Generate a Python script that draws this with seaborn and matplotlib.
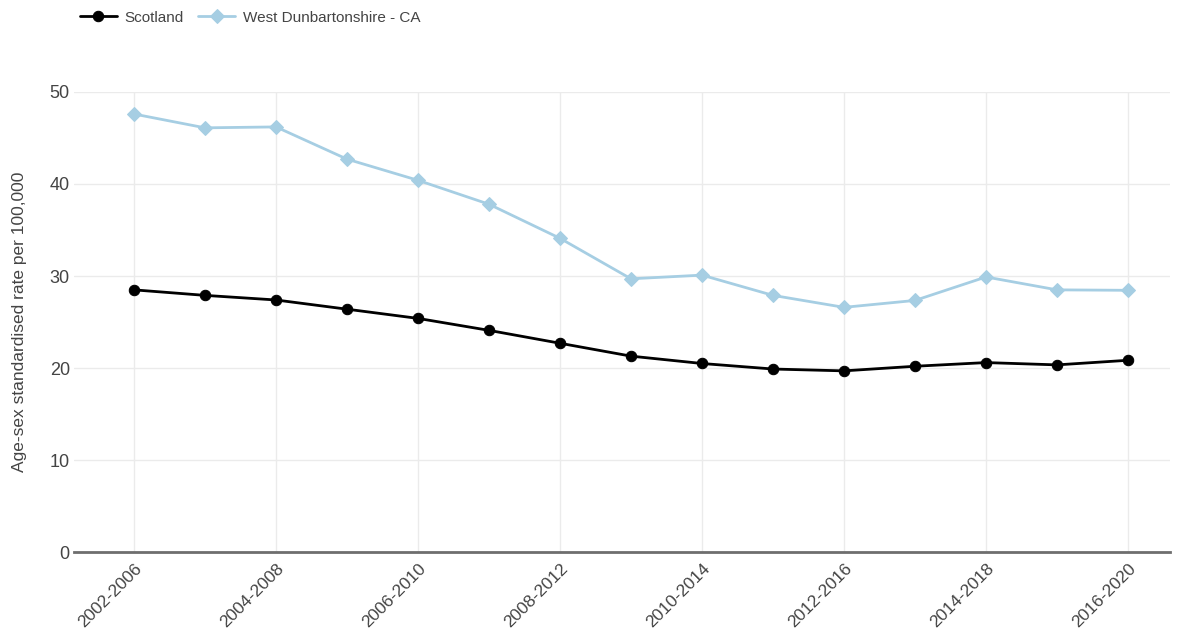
import pandas as pd
import matplotlib
matplotlib.use("Agg")
import matplotlib.pyplot as plt
import seaborn as sns

sns.set_style("white")
plt.rcParams['font.family'] = ['Liberation Sans', 'DejaVu Sans']

periods = ['2002-2006', '2003-2007', '2004-2008', '2005-2009', '2006-2010',
           '2007-2011', '2008-2012', '2009-2013', '2010-2014', '2011-2015',
           '2012-2016', '2013-2017', '2014-2018', '2015-2019', '2016-2020']
scotland = [28.5, 27.9, 27.4, 26.4, 25.4, 24.1, 22.7, 21.3, 20.5, 19.9,
            19.7, 20.2, 20.6, 20.35, 20.85]
west_dunbartonshire = [47.6, 46.1, 46.2, 42.7, 40.4, 37.8, 34.1, 29.7, 30.1, 27.9,
                       26.6, 27.35, 29.9, 28.5, 28.45]
series_names = ['Scotland', 'West Dunbartonshire - CA']
series_colors = ['#000000', '#a6cee3']
series_markers = ['o', 'D']
series_msize = [7.5, 7.2]

df = pd.DataFrame({
    'period': periods * 2,
    'rate': scotland + west_dunbartonshire,
    'area': [series_names[0]] * len(periods) + [series_names[1]] * len(periods),
})

fig = plt.figure(figsize=(11.86, 6.34), dpi=100)
ax = fig.add_axes([0.0624, 0.129, 0.924, 0.726])

for name, col, mk, ms in zip(series_names, series_colors, series_markers, series_msize):
    sub = df[df['area'] == name]
    sns.lineplot(data=sub, x='period', y='rate', ax=ax, color=col, marker=mk,
                 markersize=ms, markeredgecolor=col,
                 linewidth=2, sort=False, label=name, clip_on=False, zorder=3)

ax.set_xlim(-0.845, len(periods) - 0.41)
ax.set_ylim(0, 50)
ax.set_yticks([0, 10, 20, 30, 40, 50])
shown = list(range(0, len(periods), 2))
ax.set_xticks(shown)
ax.set_xticklabels([periods[i] for i in shown], rotation=45, ha='right',
                   rotation_mode='anchor')
ax.tick_params(axis='x', length=0, pad=6, labelsize=12.5, labelcolor='#444444')
ax.tick_params(axis='y', length=0, pad=3, labelsize=13, labelcolor='#444444')

ax.grid(True, color='#ebebeb', linewidth=1)
ax.set_axisbelow(True)
for s in ['top', 'right', 'left']:
    ax.spines[s].set_visible(False)
ax.spines['bottom'].set_color('#6e6e6e')
ax.spines['bottom'].set_linewidth(2)
ax.spines['bottom'].set_zorder(2)

ax.set_xlabel('')
ax.set_ylabel('Age-sex standardised rate per 100,000', fontsize=12.5, color='#444444', labelpad=16)

handles, labels = ax.get_legend_handles_labels()
ax.get_legend().remove()
fig.legend(handles, labels, loc='upper left', bbox_to_anchor=(0.056, 1.005), ncol=2,
           frameon=False, fontsize=11, handlelength=2.4, columnspacing=0.95,
           handletextpad=0.5, labelcolor='#444444')

fig.savefig('out.png', dpi=100)
